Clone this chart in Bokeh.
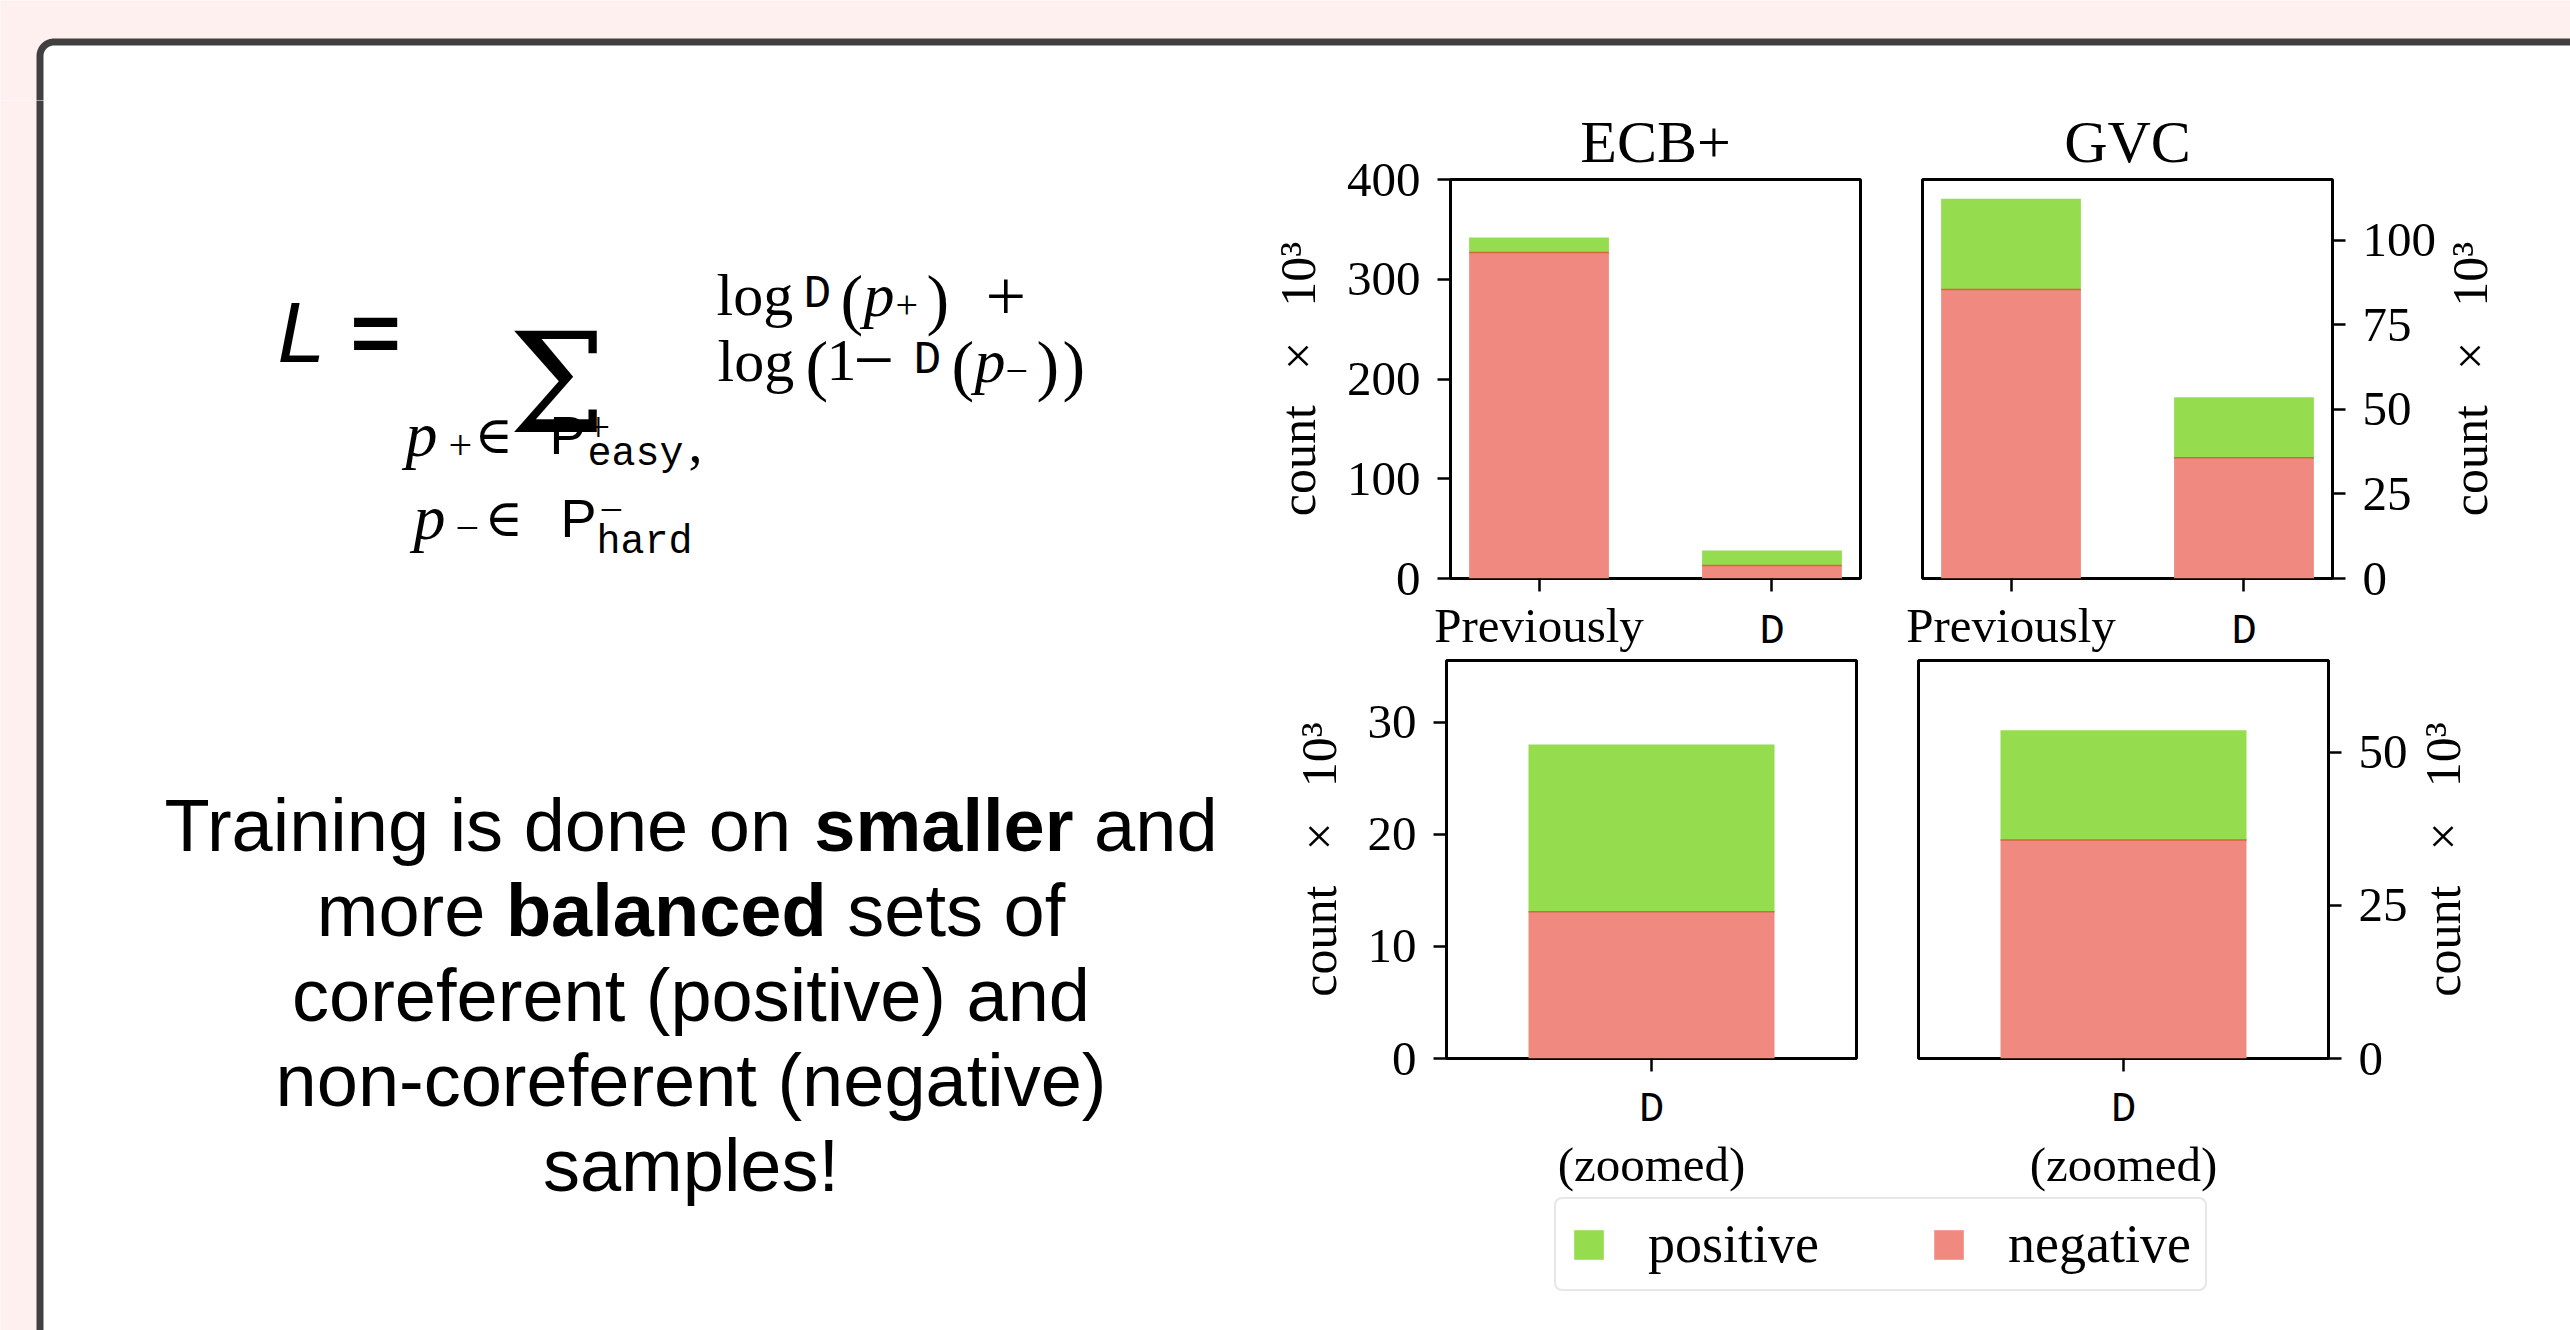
import math
import numpy as np
from bokeh.plotting import figure
from bokeh.models import Range1d, LinearAxis, FixedTicker, ColumnDataSource, Legend, LegendItem
from bokeh.layouts import row, column
from bokeh.core.properties import value
from bokeh.embed import file_html
from bokeh.resources import INLINE

# ---------------- data ----------------
categories = ["Previously", "D"]
zoom_categories = ["D"]
ecb_negative = [326.7, 13.1]
ecb_positive = [15.2, 14.9]
gvc_negative = [85.5, 35.7]
gvc_positive = [26.8, 17.9]
ecb_ticks = [0, 100, 200, 300, 400]
gvc_ticks = [0, 25, 50, 75, 100]
ecb_zoom_ticks = [0, 10, 20, 30]
gvc_zoom_ticks = [0, 25, 50]
ecb_ymax = 400
gvc_ymax = 118
ecb_zoom_ymax = 35.5
gvc_zoom_ymax = 65
series_labels = ["positive", "negative"]
titles = ["ECB+", "GVC"]
zoom_note = "(zoomed)"
y_label = "count\u2002\u2009\u00d7\u2002\u200910\u00b3"

text_lines = [
    [("Training is done on ", False), ("smaller", True), (" and", False)],
    [("more ", False), ("balanced", True), (" sets of", False)],
    [("coreferent (positive) and", False)],
    [("non-coreferent (negative)", False)],
    [("samples!", False)],
]

# ---------------- style ----------------
GREEN = "#95dc4e"
RED = "#f08a80"
EDGE = "#cf6a3a"
PINK = "#fff0f0"
SERIF = "Liberation Serif"
MONO = "Liberation Mono"
SANS = "Liberation Sans"
DJS = "DejaVu Serif"

LEFT_W = 1266          # width of the text column
STRIP_H = 100          # height of the top strip that carries the slide frame's top edge


def style_axis(ax, font, size, tick_out=13):
    ax.axis_line_color = None
    ax.major_tick_line_color = "black" if tick_out else None
    ax.major_tick_line_width = 2.5
    ax.major_tick_out = tick_out
    ax.major_tick_in = 0
    ax.minor_tick_line_color = None
    ax.minor_tick_out = 0
    ax.minor_tick_in = 0
    ax.major_label_text_font = font
    ax.major_label_text_font_size = size
    ax.major_label_text_color = "black"


def chart(cats, neg, pos, ymax, yticks, side, title, zoomed, mb, fh):
    n = len(cats)
    xs = list(range(n))
    bw = 0.6
    if zoomed:
        xr = Range1d(-0.5, n - 0.5)
    else:
        pad = 0.05 * (n - 1 + bw)
        xr = Range1d(-bw / 2 - pad, n - 1 + bw / 2 + pad)
    p = figure(x_range=xr, y_range=Range1d(0, ymax), frame_width=410, frame_height=fh,
               x_axis_type=None, y_axis_type=None, toolbar_location=None,
               output_backend="svg", min_border_left=mb[0], min_border_right=mb[1],
               min_border_top=mb[2], min_border_bottom=mb[3])
    p.background_fill_color = "white"
    p.border_fill_color = "white"
    p.outline_line_color = "black"
    p.outline_line_width = 3
    p.outline_line_alpha = 1.0
    if title:
        p.title.text = title
        p.title.text_font = SERIF
        p.title.text_font_size = "60px"
        p.title.text_font_style = "normal"
        p.title.align = "center"
        p.title.text_color = "black"
    else:
        p.title.text = ""
        p.title.visible = False

    top = [a + b for a, b in zip(neg, pos)]
    src = ColumnDataSource(dict(x=xs, neg=neg, top=top,
                                x0=[x - bw / 2 for x in xs], x1=[x + bw / 2 for x in xs]))
    p.vbar(x="x", width=bw, bottom=0, top="neg", source=src, fill_color=RED, line_color=None)
    p.vbar(x="x", width=bw, bottom="neg", top="top", source=src, fill_color=GREEN, line_color=None)
    p.segment(x0="x0", y0="neg", x1="x1", y1="neg", source=src, line_color=EDGE, line_width=1.5)

    mono_idx = [i for i, c in enumerate(cats) if c == "D"]
    if not zoomed:
        xa = LinearAxis(ticker=FixedTicker(ticks=xs, minor_ticks=[]),
                        major_label_overrides={i: (c if c != "D" else " ") for i, c in enumerate(cats)})
        style_axis(xa, SERIF, "49px")
        xa.major_label_standoff = 6
        p.add_layout(xa, "below")
        ov = LinearAxis(ticker=FixedTicker(ticks=mono_idx, minor_ticks=[]),
                        major_label_overrides={i: "D" for i in mono_idx})
        style_axis(ov, MONO, "42px", tick_out=0)
        ov.major_label_standoff = -48
        p.add_layout(ov, "below")
    else:
        xa = LinearAxis(ticker=FixedTicker(ticks=xs, minor_ticks=[]),
                        major_label_overrides={i: c for i, c in enumerate(cats)})
        style_axis(xa, MONO, "42px")
        xa.major_label_standoff = 14
        p.add_layout(xa, "below")
        xb = LinearAxis(ticker=FixedTicker(ticks=xs, minor_ticks=[]),
                        major_label_overrides={i: zoom_note for i in xs})
        style_axis(xb, SERIF, "49px", tick_out=0)
        xb.major_label_standoff = 0
        p.add_layout(xb, "below")

    ya = LinearAxis(ticker=FixedTicker(ticks=yticks, minor_ticks=[]))
    style_axis(ya, SERIF, "49px")
    ya.major_label_standoff = 17
    if side == "left":
        ya.axis_label = y_label
        ya.axis_label_text_font = SERIF
        ya.axis_label_text_font_size = "50px"
        ya.axis_label_text_font_style = "normal"
        ya.axis_label_text_color = "black"
        ya.axis_label_standoff = 18
    p.add_layout(ya, side)
    return p


def side_label(ymax, mb, fh, w, xc):
    # narrow companion figure carrying the right-hand y-axis label (reads bottom-to-top)
    p = figure(x_range=Range1d(0, w), y_range=Range1d(0, ymax), frame_width=w, frame_height=fh,
               x_axis_type=None, y_axis_type=None, toolbar_location=None, output_backend="svg",
               min_border_left=0, min_border_right=0, min_border_top=mb[2], min_border_bottom=mb[3])
    p.outline_line_color = None
    p.background_fill_color = "white"
    p.border_fill_color = "white"
    p.title.visible = False
    p.text(x=[xc], y=[ymax / 2], text=[y_label], angle=math.pi / 2, text_align="center",
           text_baseline="middle", text_font=value(SERIF), text_font_size=value("50px"),
           text_color="black")
    return p


# ---------------- charts ----------------
MB_TOP = (180, 34, 79, 78)
MB_BOT = (180, 34, 2, 139)
ecb_top = chart(categories, ecb_negative, ecb_positive, ecb_ymax, ecb_ticks, "left", titles[0],
                False, MB_TOP, 399)
gvc_top = chart(categories, gvc_negative, gvc_positive, gvc_ymax, gvc_ticks, "right", titles[1],
                False, (28, 105, 79, 78), 399)
gvc_top_lab = side_label(gvc_ymax, MB_TOP, 399, 137, 30)
ecb_bot = chart(zoom_categories, ecb_negative[1:], ecb_positive[1:], ecb_zoom_ymax, ecb_zoom_ticks,
                "left", None, True, MB_BOT, 398)
gvc_bot = chart(zoom_categories, gvc_negative[1:], gvc_positive[1:], gvc_zoom_ymax, gvc_zoom_ticks,
                "right", None, True, (28, 82, 2, 139), 398)
gvc_bot_lab = side_label(gvc_zoom_ymax, MB_BOT, 398, 160, 32)

# ---------------- legend ----------------
RIGHT_W = 2570 - LEFT_W
lg = figure(x_range=Range1d(0, 1), y_range=Range1d(0, 1), frame_width=RIGHT_W, frame_height=135,
            x_axis_type=None, y_axis_type=None, toolbar_location=None, output_backend="svg",
            min_border=0)
lg.outline_line_color = None
lg.background_fill_color = "white"
lg.border_fill_color = "white"
lg.title.visible = False
# zero-height proxies: only their legend swatches are shown
r_pos = lg.vbar(x=[0], top=[0], bottom=[0], width=0.1, fill_color=GREEN, line_color=None)
r_neg = lg.vbar(x=[0], top=[0], bottom=[0], width=0.1, fill_color=RED, line_color=None)
legend = Legend(items=[LegendItem(label=series_labels[0], renderers=[r_pos]),
                       LegendItem(label=series_labels[1], renderers=[r_neg])],
                orientation="horizontal", location=(1554 - LEFT_W, 41))
legend.glyph_width = 37
legend.glyph_height = 37
legend.label_standoff = 41
legend.spacing = 111
legend.padding = 14
legend.margin = 0
legend.label_text_font = SERIF
legend.label_text_font_size = "54px"
legend.label_text_color = "black"
legend.border_line_color = "#d0d0d0"
legend.border_line_width = 2.5
legend.background_fill_color = "white"
legend.background_fill_alpha = 1.0
if "border_radius" in Legend.properties():
    legend.border_radius = 8
lg.add_layout(legend)


# ---------------- slide frame & text ----------------
def frame_patch(p):
    r = 14.0
    x0, y0 = 39.5, 41.5
    cx, cy = x0 + r, y0 + r
    th = np.linspace(math.pi, 1.5 * math.pi, 24)
    ax = list(cx + r * np.cos(th))
    ay = list(cy + r * np.sin(th))
    far = 5000
    # pink page area outside the slide (complement of the rounded slide rectangle)
    pink_x = [-far, far, far] + ax[::-1] + [x0, -far]
    pink_y = [-far, -far, y0] + ay[::-1] + [far, far]
    p.patch(pink_x, pink_y, fill_color=PINK, line_color=None)
    # white slide with dark rounded border
    px = [x0] + ax + [far, far]
    py = [far] + ay + [y0, far]
    p.patch(px, py, fill_color="white", line_color="#404040", line_width=7)


def plain(xr, yr, w, h):
    p = figure(x_range=Range1d(*xr), y_range=Range1d(*yr), frame_width=w, frame_height=h,
               x_axis_type=None, y_axis_type=None, toolbar_location=None, output_backend="svg",
               min_border=0)
    p.outline_line_color = None
    p.background_fill_color = "white"
    p.border_fill_color = "white"
    p.title.visible = False
    frame_patch(p)
    return p


strip = plain((0, 2570), (STRIP_H, 0), 2570, STRIP_H)
left = plain((0, LEFT_W), (1330, STRIP_H), LEFT_W, 1330 - STRIP_H)


def put(p, x, y, s, font=SERIF, size=60, style="normal", align="left"):
    p.text(x=[x], y=[y], text=[s], text_font=value(font), text_font_size=value(f"{size}px"),
           text_font_style=value(style), text_align=align, text_baseline="alphabetic",
           text_color="black")


formula = [
    (277, 331, "L", SANS, 86, "italic"),
    (350, 331, "=", SANS, 86, "bold"),
    (508, 384, "\u03a3", DJS, 138, "normal"),
    (716, 294, "log", SERIF, 60, "normal"),
    (803, 294, "D", MONO, 46, "normal"),
    (840, 298, "(", SERIF, 68, "normal"),
    (863, 294, "p", SERIF, 62, "italic"),
    (895, 304, "+", SERIF, 40, "normal"),
    (926, 298, ")", SERIF, 68, "normal"),
    (985, 296, "+", SERIF, 72, "normal"),
    (717, 360, "log", SERIF, 60, "normal"),
    (805, 364, "(", SERIF, 68, "normal"),
    (826, 360, "1", SERIF, 60, "normal"),
    (853, 360, "\u2212", SERIF, 72, "normal"),
    (913, 360, "D", MONO, 46, "normal"),
    (951, 364, "(", SERIF, 68, "normal"),
    (974, 360, "p", SERIF, 62, "italic"),
    (1005, 370, "\u2212", SERIF, 40, "normal"),
    (1036, 364, ")", SERIF, 68, "normal"),
    (1062, 364, ")", SERIF, 68, "normal"),
    (405, 434, "p", SERIF, 64, "italic"),
    (448, 444, "+", SERIF, 42, "normal"),
    (474, 434, "\u2208", DJS, 52, "normal"),
    (549, 434, "P", SANS, 54, "normal"),
    (586, 426, "+", SERIF, 42, "normal"),
    (587, 454, "easy", MONO, 40, "normal"),
    (688, 442, ",", SERIF, 56, "normal"),
    (413, 517, "p", SERIF, 64, "italic"),
    (455, 527, "\u2212", SERIF, 42, "normal"),
    (484, 517, "\u2208", DJS, 52, "normal"),
    (560, 517, "P", SANS, 54, "normal"),
    (599, 509, "\u2212", SERIF, 42, "normal"),
    (596, 542, "hard", MONO, 40, "normal"),
]
for fx, fy, s, font, size, style in formula:
    put(left, fx, fy, s, font, size, style)

AR = {' ': 278, '!': 278, '(': 333, ')': 333, '-': 333, 'T': 611, 'a': 556, 'b': 556, 'c': 500,
      'd': 556, 'e': 556, 'f': 278, 'g': 556, 'i': 222, 'l': 222, 'm': 833, 'n': 556, 'o': 556,
      'p': 556, 'r': 333, 's': 500, 't': 278, 'v': 500}
ARB = {'a': 556, 'b': 611, 'c': 556, 'd': 611, 'e': 556, 'l': 278, 'm': 889, 'n': 611, 'r': 389,
       's': 556}


def tw(s, bold, size):
    tab = ARB if bold else AR
    return sum(tab.get(ch, AR.get(ch, 556)) for ch in s) * size / 1000.0


TXT = 74
center_x = 690.5
baselines = [825, 910, 995, 1080, 1165]
for segs, base in zip(text_lines, baselines):
    total = sum(tw(t, b, TXT) for t, b in segs)
    x = center_x - total / 2
    for t, b in segs:
        lead = len(t) - len(t.lstrip(" "))
        put(left, x + tw(" " * lead, b, TXT), base, t.strip(" "), SANS, TXT, "bold" if b else "normal")
        x += tw(t, b, TXT)

right_col = column(row(ecb_top, gvc_top, gvc_top_lab),
                   row(ecb_bot, gvc_bot, gvc_bot_lab),
                   lg)
root = column(strip, row(left, right_col))

html = file_html(root, INLINE, title="chart")
html = html.replace("<head>", "<head><style>html,body{background:#ffffff;overflow:hidden;}</style>", 1)
open("out.html", "w").write(html)
